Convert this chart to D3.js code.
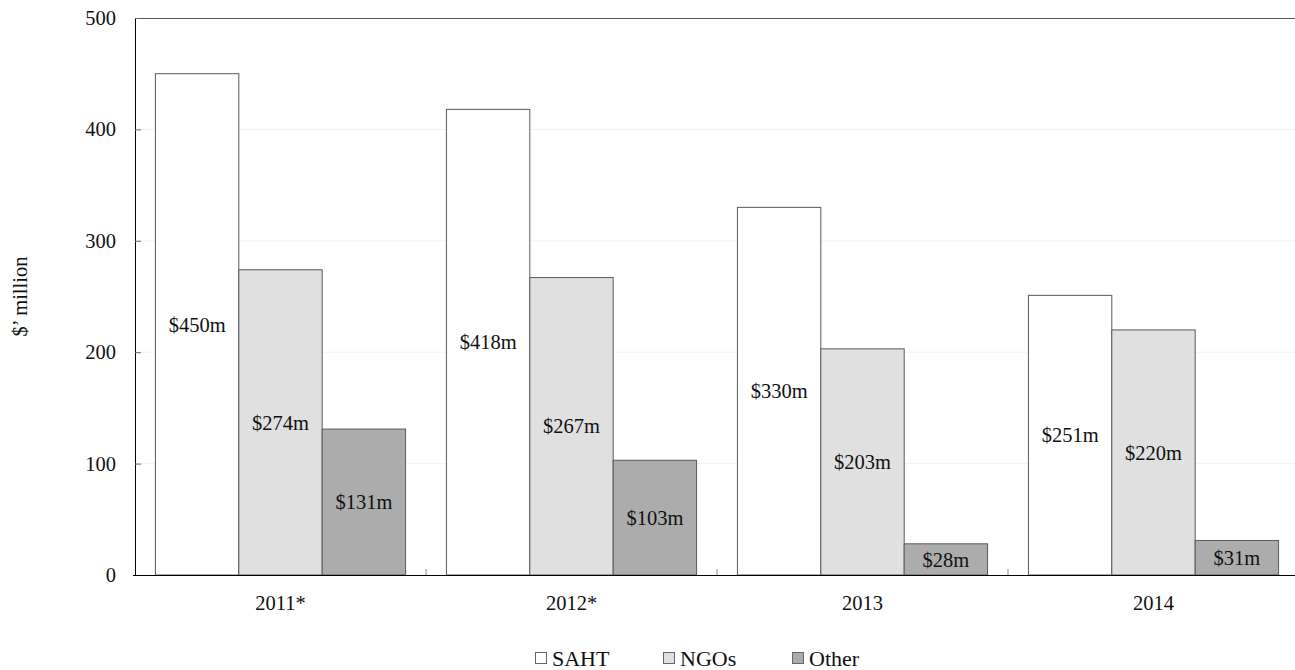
<!DOCTYPE html>
<meta charset="utf-8">
<style>
    body { margin: 0; background: #fff; }
    text { font-family: "Liberation Serif", "Times New Roman", serif; fill: #111; }
    .grid line { stroke: #f2f2f2; }
</style>
<svg width="1295" height="670"></svg>
<script src="https://d3js.org/d3.v7.min.js"></script>
<script>

    var years = ["2011*", "2012*", "2013", "2014"];
    var series = ["SAHT", "NGOs", "Other"];
    var saht = [450, 418, 330, 251];
    var ngos = [274, 267, 203, 220];
    var other = [131, 103, 28, 31];
    var yTicks = [0, 100, 200, 300, 400, 500];
    var colors = ["#ffffff", "#e0e0e0", "#acacac"];

    var values = { SAHT: saht, NGOs: ngos, Other: other };

    var svg = d3.select("svg"),
        plotLeft = 135, plotRight = 1299, plotTop = 18, plotBottom = 575,
        fs = 20.5;

    var x0 = d3.scaleBand().domain(years).range([plotLeft, plotRight]);
    var x1 = d3.scaleBand().domain(series).range([0, x0.bandwidth()])
        .paddingInner(0).paddingOuter(0.245);
    var y = d3.scaleLinear().domain([0, 500]).range([plotBottom, plotTop]);
    var color = d3.scaleOrdinal().domain(series).range(colors);

    // faint gridlines
    svg.append("g").attr("class", "grid")
        .selectAll("line")
        .data(yTicks.slice(1, -1))
        .enter().append("line")
        .attr("x1", plotLeft).attr("x2", plotRight)
        .attr("y1", function(d) { return y(d); })
        .attr("y2", function(d) { return y(d); });

    // top border
    svg.append("line")
        .attr("x1", plotLeft).attr("x2", plotRight)
        .attr("y1", plotTop + 0.5).attr("y2", plotTop + 0.5)
        .attr("stroke", "#555");

    // bars
    var rows = [];
    years.forEach(function(yr, i) {
        series.forEach(function(s) {
            rows.push({ year: yr, key: s, value: values[s][i] });
        });
    });

    var bar = svg.append("g").selectAll("g")
        .data(rows)
        .enter().append("g");

    bar.append("rect")
        .attr("x", function(d) { return x0(d.year) + x1(d.key); })
        .attr("y", function(d) { return y(d.value); })
        .attr("width", x1.bandwidth())
        .attr("height", function(d) { return plotBottom - y(d.value); })
        .attr("fill", function(d) { return color(d.key); })
        .attr("stroke", "#5a5a5a")
        .attr("stroke-width", 1);

    bar.append("text")
        .attr("x", function(d) { return x0(d.year) + x1(d.key) + x1.bandwidth() / 2; })
        .attr("y", function(d) { return (y(d.value) + plotBottom) / 2; })
        .attr("dy", "0.35em")
        .attr("text-anchor", "middle")
        .attr("font-size", fs)
        .text(function(d) { return "$" + d.value + "m"; });

    // y axis
    var yAxis = svg.append("g")
        .attr("transform", "translate(" + plotLeft + ",0)")
        .call(d3.axisLeft(y).tickValues(yTicks).tickSizeInner(-6).tickSizeOuter(0).tickPadding(19));
    yAxis.select(".domain").attr("stroke", "#000");
    yAxis.selectAll(".tick line").attr("stroke", "#666");
    yAxis.selectAll("text").attr("font-size", fs)
        .attr("font-family", "Liberation Serif").attr("fill", "#111");

    // x axis
    var xAxis = svg.append("g")
        .attr("transform", "translate(0," + plotBottom + ")")
        .call(d3.axisBottom(x0).tickSize(0).tickPadding(20));
    xAxis.select(".domain").attr("stroke", "#000").attr("d", "M" + (plotLeft - 2) + ",0.5H" + plotRight);
    xAxis.selectAll("text").attr("font-size", fs)
        .attr("font-family", "Liberation Serif").attr("fill", "#111");

    svg.append("g").selectAll("line")
        .data(years.slice(1))
        .enter().append("line")
        .attr("x1", function(d) { return x0(d); })
        .attr("x2", function(d) { return x0(d); })
        .attr("y1", plotBottom).attr("y2", plotBottom - 6)
        .attr("stroke", "#888");

    // y label
    svg.append("text")
        .attr("transform", "translate(20," + ((plotTop + plotBottom) / 2) + ") rotate(-90)")
        .attr("text-anchor", "middle")
        .attr("dy", "0.35em")
        .attr("font-size", fs)
        .text("$\u2019 million");

    // legend
    var legendX = [535, 663, 792];
    var legend = svg.append("g").selectAll("g")
        .data(series)
        .enter().append("g")
        .attr("transform", function(d, i) { return "translate(" + legendX[i] + ",658)"; });

    legend.append("rect")
        .attr("x", 0.5).attr("y", -5.5)
        .attr("width", 11).attr("height", 11)
        .attr("fill", function(d) { return color(d); })
        .attr("stroke", "#666");

    legend.append("text")
        .attr("x", 17).attr("y", 0)
        .attr("dy", "0.35em")
        .attr("font-size", 22)
        .text(function(d) { return d; });

</script>
